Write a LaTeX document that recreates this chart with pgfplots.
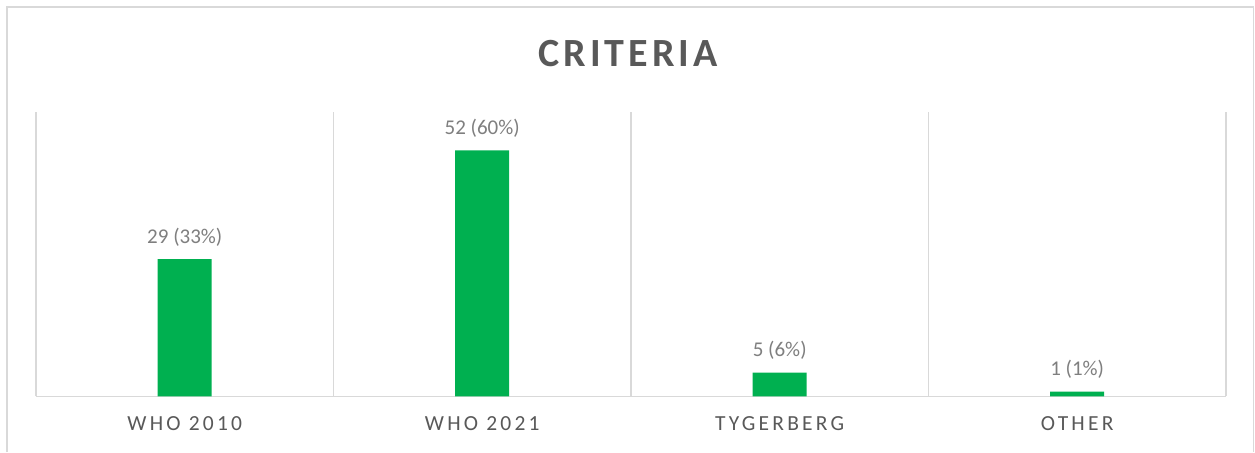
\documentclass[border=0pt]{standalone}
\usepackage{pgfplots}
\pgfplotsset{compat=1.18}
\usepackage{fontspec}
\setmainfont{Carlito}
\newfontfamily\ticklbl[LetterSpace=15]{Carlito}
\newfontfamily\titlefont[LetterSpace=10]{Carlito}
\definecolor{barGreen}{HTML}{00B050}
\definecolor{gridGray}{HTML}{D9D9D9}
\definecolor{lblGray}{HTML}{7F7F7F}
\definecolor{txtGray}{HTML}{595959}

\begin{document}
\begin{tikzpicture}[x=1pt,y=1pt]
% page frame, bottom edge cropped in the reference
\path[fill=white] (0,0) rectangle (1255,452);
\draw[gridGray, line width=1.5pt] (7,0) -- (7,445) -- (1253.5,445) -- (1253.5,0);
\node[anchor=base, text=txtGray, font=\titlefont\bfseries\fontsize{40}{48}\selectfont] at (628,385) {CRITERIA};
\begin{axis}[
    at={(36pt,55.6pt)}, anchor=south west,
    scale only axis,
    width=1190pt, height=284pt,
    xmin=-0.5, xmax=3.5,
    ymin=0, ymax=60,
    clip=false,
    axis line style={draw=none},
    ybar,
    bar width=54pt,
    xtick={0,1,2,3},
    xticklabels={WHO 2010, WHO 2021, TYGERBERG, OTHER},
    xticklabel style={anchor=base, yshift=-34pt, text=txtGray, font=\ticklbl\fontsize{21.5}{26}\selectfont},
    major tick length=0pt,
    ytick=\empty,
    extra x ticks={-0.5,0.5,1.5,2.5,3.5},
    extra x tick labels={},
    extra x tick style={grid=major},
    extra y ticks={0},
    extra y tick labels={},
    extra y tick style={grid=major},
    major grid style={draw=gridGray, line width=1.5pt},
    point meta=explicit symbolic,
    nodes near coords,
    nodes near coords style={anchor=base, yshift=16pt, text=lblGray, font=\fontsize{21}{25}\selectfont},
]
\addplot[fill=barGreen, draw=none] coordinates {
    (0,29) [29 (33\%)]
    (1,52) [52 (60\%)]
    (2,5)  [5 (6\%)]
    (3,1)  [1 (1\%)]
};
\end{axis}
\end{tikzpicture}
\end{document}
